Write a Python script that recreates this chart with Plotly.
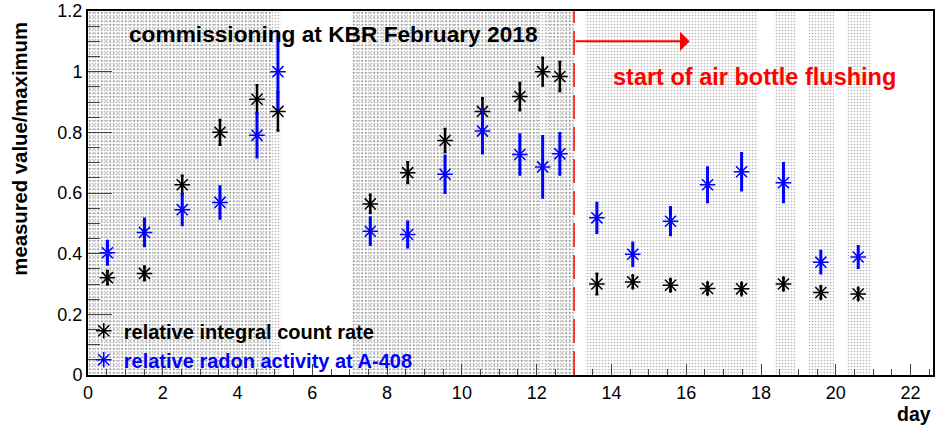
import plotly.graph_objects as go

# ---------------- data ----------------
days = [0.52, 1.51, 2.52, 3.53, 4.52, 5.08, 7.55, 8.55, 9.55, 10.55, 11.55, 12.16, 12.62,
        13.61, 14.57, 15.58, 16.57, 17.48, 18.60, 19.60, 20.60]

count_rate = [0.321, 0.335, 0.627, 0.800, 0.909, 0.869, 0.564, 0.667, 0.773, 0.869, 0.918, 1.000, 0.984,
              0.300, 0.307, 0.296, 0.285, 0.284, 0.300, 0.272, 0.267]
count_rate_err = [0.022, 0.022, 0.030, 0.041, 0.046, 0.063, 0.030, 0.034, 0.038, 0.043, 0.045, 0.046, 0.048,
                  0.034, 0.020, 0.019, 0.018, 0.018, 0.020, 0.020, 0.018]

radon = [0.403, 0.470, 0.545, 0.569, 0.790, 1.000, 0.474, 0.463, 0.662, 0.804, 0.727, 0.686, 0.729,
         0.518, 0.398, 0.507, 0.627, 0.670, 0.634, 0.372, 0.389]
radon_err = [0.038, 0.044, 0.050, 0.052, 0.071, 0.120, 0.044, 0.041, 0.060, 0.072, 0.065, 0.100, 0.067,
             0.048, 0.037, 0.045, 0.056, 0.060, 0.063, 0.036, 0.035]

# measurement intervals (shaded bands), start/end in days
band1_start = [0.0, 7.07, 13.30, 18.35, 19.28, 20.29]
band1_end = [5.17, 13.00, 17.92, 18.93, 19.95, 20.93]
band2_start = [0.0, 7.07, 12.24]
band2_end = [4.95, 12.05, 13.00]

flush_day = 13.0
arrow_end_day = 16.09

x_ticks = [0, 2, 4, 6, 8, 10, 12, 14, 16, 18, 20, 22]
y_ticks = [0, 0.2, 0.4, 0.6, 0.8, 1.0, 1.2]
y_tick_text = ["0", "0.2", "0.4", "0.6", "0.8", "1", "1.2"]
x_range = [0, 22.6]
y_range = [0, 1.2]

FONT = "Liberation Sans, Arial, Helvetica, sans-serif"

fig = go.Figure()


def add_band(starts, ends, size, solidity):
    fig.add_trace(go.Bar(
        x=[(a + b) / 2 for a, b in zip(starts, ends)],
        y=[y_range[1]] * len(starts),
        width=[b - a for a, b in zip(starts, ends)],
        base=0,
        marker=dict(color="rgba(0,0,0,0)", line=dict(width=0),
                    pattern=dict(shape=".", fgcolor="#707070", bgcolor="rgba(0,0,0,0)",
                                 size=size, solidity=solidity)),
        showlegend=False, hoverinfo="skip",
    ))


add_band(band1_start, band1_end, 3, 0.25)
add_band(band2_start, band2_end, 4, 0.2)

fig.add_trace(go.Scatter(
    x=days, y=count_rate, mode="markers",
    name="<b>relative integral count rate</b>",
    marker=dict(symbol="asterisk-open", size=13, color="black", line=dict(color="black", width=1.5)),
    error_y=dict(type="data", array=count_rate_err, color="black", thickness=2.5, width=1.5),
))
fig.add_trace(go.Scatter(
    x=days, y=radon, mode="markers",
    name="<b><span style='color:#0000ff'>relative radon activity at A-408</span></b>",
    marker=dict(symbol="asterisk-open", size=13, color="#0000ff", line=dict(color="#0000ff", width=1.5)),
    error_y=dict(type="data", array=radon_err, color="#0000ff", thickness=3, width=1.5),
))

# red dashed vertical line
fig.add_shape(type="line", x0=flush_day, x1=flush_day, y0=y_range[0], y1=y_range[1],
              xref="x", yref="y", line=dict(color="#ff0000", width=1.5, dash="24px,8px"))

# red arrow
fig.add_annotation(x=arrow_end_day, y=1.10, ax=flush_day, ay=1.10, xref="x", yref="y",
                   axref="x", ayref="y", text="", showarrow=True, arrowhead=1,
                   arrowsize=1.6, arrowwidth=2, arrowcolor="#ff0000")

fig.add_annotation(x=1.05, y=1.124, xref="x", yref="y", xanchor="left", yanchor="middle",
                   text="<b>commissioning at KBR February 2018</b>", showarrow=False,
                   font=dict(family=FONT, size=22.7, color="black"))
fig.add_annotation(x=13.99, y=0.984, xref="x", yref="y", xanchor="left", yanchor="middle",
                   text="<b>start of air bottle flushing</b>", showarrow=False,
                   font=dict(family=FONT, size=23.5, color="#ff0000"))

# axis titles
fig.add_annotation(x=1.0, y=-0.108, xref="paper", yref="paper", xanchor="right", yanchor="middle",
                   text="<b>day</b>", showarrow=False, font=dict(family=FONT, size=19.5, color="black"))
fig.add_annotation(x=-0.08, y=0.623, xref="paper", yref="paper", xanchor="center", yanchor="middle",
                   text="<b>measured value/maximum</b>", textangle=-90, showarrow=False,
                   font=dict(family=FONT, size=20.3, color="black"))

fig.update_layout(
    width=936, height=428,
    margin=dict(l=88, r=1, t=8, b=53),
    paper_bgcolor="white", plot_bgcolor="white",
    barmode="overlay", bargap=0,
    font=dict(family=FONT, size=18, color="black"),
    showlegend=True,
    legend=dict(x=-0.005, y=0.175, xanchor="left", yanchor="top", bgcolor="rgba(0,0,0,0)",
                font=dict(family=FONT, size=20), tracegroupgap=0, itemwidth=30),
)

fig.update_xaxes(range=x_range, tickvals=x_ticks, ticks="inside", ticklen=11, tickwidth=1,
                 showline=True, linewidth=2, linecolor="black", mirror=True, showgrid=False,
                 zeroline=False, tickfont=dict(family=FONT, size=18), ticklabeloverflow="allow",
                 minor=dict(dtick=0.5, ticks="inside", ticklen=6, tickwidth=1, tick0=0))
fig.update_yaxes(range=y_range, tickvals=y_ticks, ticktext=y_tick_text, ticks="inside", ticklen=24,
                 tickwidth=1, showline=True, linewidth=2, linecolor="black", mirror=True,
                 showgrid=False, zeroline=False, tickfont=dict(family=FONT, size=18),
                 ticklabeloverflow="allow",
                 minor=dict(dtick=0.05, ticks="inside", ticklen=12, tickwidth=1, tick0=0))

fig.write_html("out.html", config={"displayModeBar": False},
               post_script="document.body.style.margin='0px';document.body.style.padding='0px';")
